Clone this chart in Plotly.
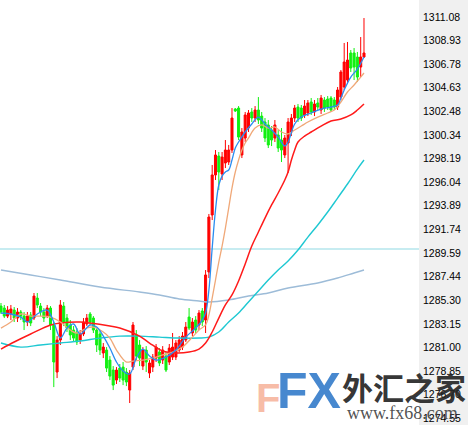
import plotly.graph_objects as go

# ---------------- candle data (index = bar number) ----------------
opens = [1284.40,1284.22,1283.49,1283.68,1284.04,1283.31,1283.86,1283.49,1282.95,1283.59,
         1283.31,1285.13,1284.40,1283.86,1283.49,1284.22,1282.68,1278.40,1281.31,1284.40,
         1283.31,1282.68,1282.22,1282.04,1281.31,1281.86,1282.77,1283.68,1283.31,1282.22,
         1281.86,1280.13,1280.40,1279.49,1278.58,1277.67,1278.76,1278.85,1278.40,1276.76,
         1278.85,1281.77,1280.86,1278.94,1280.40,1278.31,1278.85,1279.67,1280.22,1279.49,
         1279.85,1279.31,1279.76,1279.76,1280.40,1280.67,1281.31,1283.40,1281.95,1283.13,
         1282.68,1283.95,1283.13,1287.50,1292.69,1296.33,1298.05,1296.42,1297.42,1297.51,
         1298.60,1302.33,1302.42,1298.15,1299.69,1300.60,1302.06,1301.51,1302.24,1301.69,
         1301.15,1300.88,1300.42,1299.69,1299.97,1299.51,1298.15,1299.24,1300.24,1301.51,
         1302.51,1302.42,1301.79,1301.97,1302.97,1302.06,1302.88,1302.24,1303.15,1303.24,
         1303.33,1303.15,1302.51,1303.42,1304.33,1304.97,1307.43,1307.43,1307.06,1306.15,
         1307.06]
highs = [1284.68,1284.50,1284.40,1284.50,1284.31,1284.22,1284.04,1283.86,1283.86,1283.86,
         1285.59,1285.59,1284.68,1284.22,1284.50,1284.40,1282.95,1281.67,1284.95,1284.77,
         1283.68,1283.13,1282.58,1282.40,1282.22,1283.31,1283.68,1283.86,1283.49,1282.40,
         1282.22,1281.04,1280.67,1279.85,1278.94,1278.85,1279.13,1279.31,1278.76,1278.58,
         1282.95,1282.22,1281.31,1280.67,1280.76,1279.49,1280.04,1280.95,1280.58,1280.76,
         1280.22,1280.95,1281.95,1281.31,1281.67,1282.04,1282.95,1284.22,1283.31,1283.49,
         1284.04,1284.22,1287.68,1292.78,1297.24,1298.60,1298.42,1298.42,1299.51,1299.06,
         1302.42,1302.42,1302.60,1300.60,1302.06,1302.24,1302.42,1302.60,1303.42,1302.06,
         1301.51,1301.33,1300.78,1301.33,1300.42,1300.60,1299.97,1301.51,1301.88,1302.70,
         1302.79,1302.70,1303.15,1303.15,1303.33,1303.15,1303.33,1303.61,1303.42,1303.51,
         1303.51,1303.42,1304.33,1305.88,1308.34,1308.43,1307.70,1307.88,1307.52,1308.88,
         1310.61]
lows = [1283.68,1283.31,1283.31,1283.13,1282.95,1282.95,1283.13,1282.22,1282.58,1282.58,
        1283.13,1284.22,1283.49,1282.95,1283.31,1282.22,1277.03,1277.85,1280.86,1282.58,
        1282.04,1281.31,1281.13,1280.86,1280.95,1281.67,1282.58,1282.68,1281.95,1280.22,
        1279.95,1279.67,1278.40,1277.67,1276.76,1277.31,1277.49,1277.21,1277.12,1275.58,
        1278.58,1279.49,1278.94,1278.58,1278.40,1277.85,1278.40,1279.31,1278.94,1279.13,
        1278.40,1279.04,1279.49,1279.49,1280.22,1280.40,1281.13,1282.22,1281.67,1281.95,
        1282.22,1282.58,1281.95,1286.95,1292.23,1295.87,1294.96,1295.87,1296.96,1297.24,
        1298.33,1302.06,1299.51,1297.87,1299.33,1300.24,1301.15,1301.15,1300.97,1300.24,
        1299.33,1298.78,1298.96,1299.33,1298.42,1297.51,1297.87,1296.51,1299.87,1301.15,
        1301.15,1301.24,1301.51,1301.69,1301.79,1301.69,1302.24,1301.88,1302.06,1302.24,
        1302.06,1302.24,1302.24,1303.15,1304.06,1304.61,1305.70,1304.97,1304.79,1305.24,
        1306.97]
closes = [1283.86,1283.49,1284.04,1284.13,1283.31,1283.86,1283.49,1282.95,1283.49,1282.86,
          1285.31,1284.50,1283.86,1283.31,1284.22,1282.68,1279.31,1281.31,1284.50,1282.95,
          1282.40,1281.77,1281.49,1281.13,1281.86,1282.95,1283.31,1282.95,1282.22,1280.86,
          1280.40,1280.67,1278.76,1278.03,1277.21,1278.58,1277.85,1277.67,1277.49,1278.31,
          1282.68,1279.85,1279.67,1280.40,1279.31,1279.22,1279.76,1280.67,1279.22,1280.40,
          1278.58,1280.58,1280.67,1281.04,1281.31,1281.67,1282.49,1282.40,1282.95,1282.22,
          1283.77,1282.95,1287.23,1292.50,1296.33,1298.15,1296.60,1297.96,1298.60,1298.60,
          1301.51,1302.15,1299.78,1300.24,1301.79,1301.97,1301.51,1302.24,1301.33,1300.60,
          1299.69,1299.06,1299.51,1300.88,1298.78,1298.60,1299.69,1301.15,1301.51,1302.42,
          1301.51,1301.51,1302.60,1302.88,1302.06,1302.79,1302.51,1303.33,1302.42,1302.51,
          1302.24,1302.51,1304.06,1305.70,1306.61,1306.79,1306.06,1306.15,1305.24,1307.06,
          1307.43]
bars = list(range(len(closes)))

# ---------------- moving averages (bar index, value) ----------------
ma_fast_x = [0,3,6,8,11,14,16,18,20,22,24,27,29,31,33,35,37,39,41,43,45,47,50,53,56,59,61,62,63,64,65,66,67,68,69,70,71,72,74,76,78,80,82,84,86,87,89,91,94,97,100,102,103,104,106,108,110]
ma_fast_y = [1283.77,1283.68,1283.40,1282.95,1283.68,1284.04,1282.95,1281.49,1282.40,1282.77,1281.86,1282.68,1282.49,1281.67,1280.58,1279.31,1278.49,1278.22,1279.67,1280.49,1279.85,1279.49,1279.76,1280.40,1281.58,1282.40,1283.13,1283.77,1285.86,1289.68,1293.14,1295.42,1296.23,1296.60,1296.78,1297.69,1298.78,1299.33,1300.24,1300.97,1301.60,1300.97,1300.42,1299.78,1298.96,1299.33,1300.97,1301.60,1301.97,1302.33,1302.51,1302.70,1303.33,1304.06,1305.24,1305.97,1307.06]

ma_mid_x = [0,3,6,9,12,15,18,21,23,26,28,31,33,35,38,40,43,46,49,52,55,58,60,62,63,64,65,66,67,68,69,70,71,72,73,74,75,77,79,81,83,85,87,89,91,93,96,99,101,103,105,107,109,110]
ma_mid_y = [1282.40,1282.95,1283.68,1283.49,1283.49,1283.40,1282.95,1282.22,1281.95,1282.40,1282.49,1282.04,1281.49,1280.40,1279.31,1279.40,1279.49,1279.67,1279.95,1280.22,1280.67,1281.58,1282.22,1282.68,1283.59,1285.13,1286.77,1288.41,1289.86,1291.50,1293.32,1295.14,1296.60,1297.69,1298.60,1299.24,1299.69,1300.60,1300.88,1300.60,1300.69,1300.24,1300.06,1300.42,1300.78,1301.15,1301.60,1301.97,1302.24,1302.97,1303.88,1304.52,1305.24,1305.61]

ma_red_x = [0,4,9,15,18,24,27,33,36,42,45,49,53,57,60,62,64,66,68,70,72,74,76,78,80,82,84,86,87,88,89,90,92,94,97,100,103,106,108,110]
ma_red_y = [1280.49,1281.13,1281.86,1282.68,1282.86,1282.95,1282.86,1282.58,1282.40,1281.67,1281.04,1280.31,1280.13,1280.22,1280.49,1281.04,1282.04,1283.31,1284.50,1285.41,1286.68,1288.23,1289.86,1291.14,1292.41,1293.60,1294.69,1295.87,1296.60,1297.69,1298.60,1299.33,1299.87,1300.24,1300.78,1301.24,1301.42,1301.79,1302.24,1302.79]

ma_cyan_x = [0,6,12,18,24,30,36,42,48,54,60,63,66,69,72,75,78,81,84,87,90,93,96,99,102,105,108,110]
ma_cyan_y = [1281.04,1280.67,1280.86,1281.04,1281.22,1281.49,1281.67,1281.67,1281.58,1281.49,1281.49,1281.58,1282.04,1282.95,1283.77,1284.77,1285.77,1286.77,1287.68,1288.50,1289.50,1290.68,1291.78,1292.96,1294.23,1295.51,1296.87,1297.69]

ma_slow_x = [0,9,18,30,42,48,54,60,63,69,75,81,87,96,102,107,110]
ma_slow_y = [1287.68,1287.23,1286.77,1286.13,1285.68,1285.41,1285.04,1284.86,1284.77,1284.95,1285.31,1285.59,1286.04,1286.50,1286.95,1287.41,1287.68]

level_line = 1289.59
tick_values = [1311.08,1308.93,1306.78,1304.63,1302.48,1300.34,1298.19,1296.04,1293.89,
               1291.74,1289.59,1287.44,1285.30,1283.15,1281.00,1278.85,1276.70,1274.55]
tick_labels = ["%.2f" % v for v in tick_values]

W, H = 468, 425
PLOT_W = 419

fig = go.Figure()

fig.add_shape(type="line", xref="paper", yref="y", x0=0, x1=PLOT_W / W,
              y0=level_line, y1=level_line, line=dict(color="#b4e6ec", width=1.5), layer="below")

fig.add_trace(go.Scatter(x=ma_slow_x, y=ma_slow_y, mode="lines",
                         line=dict(color="#9dbcd8", width=1.5, shape="spline"), hoverinfo="skip"))
fig.add_trace(go.Scatter(x=ma_cyan_x, y=ma_cyan_y, mode="lines",
                         line=dict(color="#1ec8d2", width=1.4, shape="spline"), hoverinfo="skip"))

fig.add_trace(go.Candlestick(
    x=bars, open=opens, high=highs, low=lows, close=closes,
    increasing=dict(line=dict(color="#ff0000", width=1), fillcolor="#ff0000"),
    decreasing=dict(line=dict(color="#11f011", width=1), fillcolor="#11f011"),
    whiskerwidth=0, hoverinfo="skip"))

fig.add_trace(go.Scatter(x=ma_red_x, y=ma_red_y, mode="lines",
                         line=dict(color="#ff1a1a", width=1.5, shape="spline"), hoverinfo="skip"))
fig.add_trace(go.Scatter(x=ma_mid_x, y=ma_mid_y, mode="lines",
                         line=dict(color="#f0a878", width=1.3, shape="spline"), hoverinfo="skip"))
fig.add_trace(go.Scatter(x=ma_fast_x, y=ma_fast_y, mode="lines",
                         line=dict(color="#2a8cf0", width=1.3, shape="spline"), hoverinfo="skip"))

def px(x, y):
    return x / W, 1 - y / H

ann = []
fx, fy = px(268, 398)
ann.append(dict(x=fx, y=fy, text="<b>F</b>", font=dict(family="Liberation Sans", size=40, color="rgba(240,130,90,0.55)")))
fx, fy = px(309, 391)
ann.append(dict(x=fx, y=fy, text="<b>FX</b>", font=dict(family="Liberation Sans", size=50, color="rgba(45,120,200,0.88)")))
fx, fy = px(404, 386)
ann.append(dict(x=fx, y=fy, text="<b>外汇之家</b>", font=dict(family="Noto Sans CJK SC", size=31, color="rgba(35,35,35,0.92)")))
fx, fy = px(402, 413)
ann.append(dict(x=fx, y=fy, text="www.fx68.com", font=dict(family="Liberation Serif", size=18, color="rgba(60,60,60,0.9)")))
for a in ann:
    a.update(xref="paper", yref="paper", showarrow=False, xanchor="center", yanchor="middle")

fig.update_layout(
    width=W, height=H,
    margin=dict(l=0, r=0, t=0, b=0),
    paper_bgcolor="#f0f0f0",
    plot_bgcolor="#ffffff",
    showlegend=False,
    boxgap=0.12,
    annotations=ann,
    xaxis=dict(domain=[0, PLOT_W / W], range=[-0.3, 126.67], showgrid=False, zeroline=False,
               showticklabels=False, ticks="", rangeslider=dict(visible=False), fixedrange=True),
    yaxis=dict(range=[1273.58, 1312.25], side="right", showgrid=False, zeroline=False,
               tickvals=tick_values, ticktext=tick_labels, ticks="", ticklabelstandoff=3,
               ticklabelshift=4,
               tickfont=dict(family="Liberation Sans", size=10.5, color="#000000"), fixedrange=True),
)

fig.write_html("out.html", config={"displayModeBar": False},
               post_script="document.body.style.margin='0';document.body.style.overflow='hidden';")
